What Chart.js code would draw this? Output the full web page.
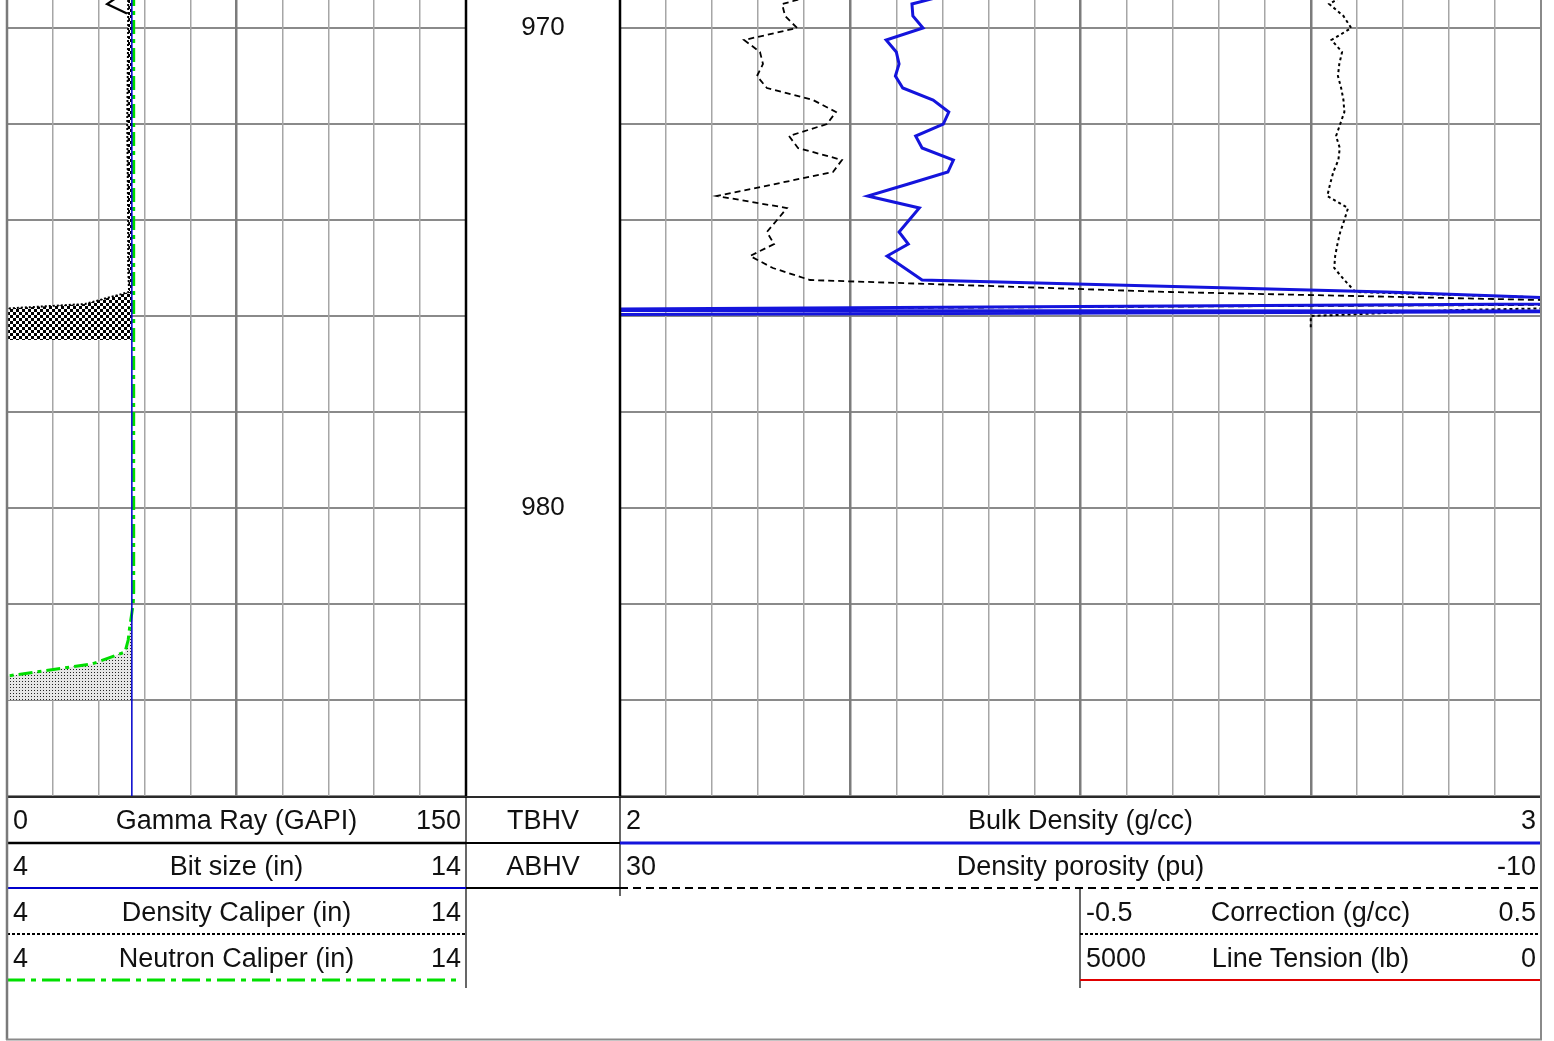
<!DOCTYPE html>
<html>
<head>
<meta charset="utf-8">
<title>Density log</title>
<script src="https://cdn.jsdelivr.net/npm/chart.js@4.4.1/dist/chart.umd.min.js"></script>
<style>
  body { margin: 0; background: #fff; }
  #page { position: relative; width: 1554px; height: 1041px; overflow: hidden; font-family: Arial, "Liberation Sans", sans-serif; }
  #page canvas { position: absolute; top: 0; }
  #lines { position: absolute; left: 0; top: 0; pointer-events: none; }
  .cell { position: absolute; height: 46px; line-height: 46px; font-size: 27px; color: #111; white-space: nowrap; }
  .cell span { position: absolute; top: 0; }
  .cell .l { left: 6px; }
  .cell .r { right: 5px; }
  .cell .m { left: 0; right: 0; text-align: center; }
</style>
</head>
<body>
<div id="page">
  <canvas id="track1" width="459" height="797" style="left:7px"></canvas>
  <canvas id="depth" width="154" height="797" style="left:466px"></canvas>
  <canvas id="track2" width="921" height="797" style="left:620px"></canvas>
  <svg id="lines" width="1554" height="1041">
    <!-- track borders -->
    <line x1="466" y1="0" x2="466" y2="797" stroke="#000" stroke-width="2.5"/>
    <line x1="620" y1="0" x2="620" y2="797" stroke="#000" stroke-width="2.5"/>
    <!-- header frame -->
    <line x1="7" y1="797" x2="1541" y2="797" stroke="#2a2a2a" stroke-width="2"/>
    <line x1="466" y1="797" x2="466" y2="988" stroke="#000" stroke-width="1.2"/>
    <line x1="620" y1="797" x2="620" y2="896" stroke="#000" stroke-width="1.2"/>
    <line x1="1080" y1="889" x2="1080" y2="988" stroke="#000" stroke-width="1.2"/>
    <!-- curve keys under each header -->
    <line x1="7" y1="843" x2="466" y2="843" stroke="#000" stroke-width="2.5"/>
    <line x1="466" y1="843" x2="620" y2="843" stroke="#000" stroke-width="2"/>
    <line x1="620" y1="843" x2="1541" y2="843" stroke="#1414dc" stroke-width="3"/>
    <line x1="7" y1="888" x2="466" y2="888" stroke="#0000cc" stroke-width="2"/>
    <line x1="466" y1="888" x2="620" y2="888" stroke="#000" stroke-width="2"/>
    <line x1="620" y1="888" x2="1541" y2="888" stroke="#000" stroke-width="2" stroke-dasharray="8 5"/>
    <line x1="7" y1="934" x2="466" y2="934" stroke="#000" stroke-width="2" stroke-dasharray="3 2"/>
    <line x1="1080" y1="934" x2="1541" y2="934" stroke="#000" stroke-width="2" stroke-dasharray="3 2"/>
    <line x1="7" y1="980" x2="460" y2="980" stroke="#00e000" stroke-width="3" stroke-dasharray="18 6 5 6"/>
    <line x1="1080" y1="980" x2="1541" y2="980" stroke="#e00000" stroke-width="2"/>
    <!-- outer frame -->
    <line x1="7" y1="0" x2="7" y2="1040" stroke="#7a7a7a" stroke-width="2.5"/>
    <line x1="1541" y1="0" x2="1541" y2="1040" stroke="#8a8a8a" stroke-width="2"/>
    <line x1="6" y1="1039.5" x2="1542" y2="1039.5" stroke="#8a8a8a" stroke-width="2"/>
  </svg>
  <div id="header"></div>
</div>
<script>
// depth window (ft) and grid
const topDepth = 969.4167;
const bottomDepth = 986.02;
const depthTicks = [970, 972, 974, 976, 978, 980, 982, 984, 986];
const depthLabels = [970, 980];

// scale ends as printed in the headers (left, right)
const grScale = [0, 150];
const calScale = [4, 14];
const rhobScale = [2, 3];
const dphiScale = [30, -10];
const corScale = [-0.5, 0.5];
const tensionScale = [5000, 0];

// track 1 curves
const grDepth = [969.25, 969.5, 969.7];
const grValue = [38.6, 32.7, 39.2];

const bsDepth = [969.2, 986.1];
const bsValue = [6.72, 6.72];

const dcalDepth = [969.25, 970, 971, 972, 973, 974, 975, 975.25, 975.5, 975.75, 976, 976.25, 976.5];
const dcalValue = [6.64, 6.64, 6.63, 6.62, 6.63, 6.64, 6.64, 6.65, 6.66, 5.70, 1.17, 1.1, 1.1];

const ncalDepth = [969.25, 972, 975, 978, 981, 981.75, 982, 982.25, 982.5, 982.75, 983, 983.25, 983.5, 983.75, 984];
const ncalValue = [6.76, 6.76, 6.76, 6.76, 6.76, 6.76, 6.75, 6.71, 6.67, 6.64, 6.57, 5.85, 4.0, 2.87, 2.54];

// track 2 curves
const rhobDepth = [969.25, 969.5, 969.75, 970, 970.25, 970.5, 970.75, 971, 971.25, 971.5, 971.75, 972,
  972.25, 972.5, 972.75, 973, 973.25, 973.5, 973.75, 974, 974.25, 974.5, 974.75, 975, 975.25, 975.5,
  975.73, 975.879, 975.9, 975.98];
const rhobValue = [2.367, 2.317, 2.318, 2.329, 2.289, 2.300, 2.303, 2.299, 2.307, 2.340, 2.357, 2.351,
  2.321, 2.328, 2.362, 2.356, 2.313, 2.269, 2.325, 2.314, 2.303, 2.313, 2.290, 2.309, 2.328, 2.832,
  3.173, 1.761, 3.173, 1.761];

const dphiDepth = [969.25, 969.5, 969.75, 970, 970.25, 970.5, 970.75, 971, 971.25, 971.5, 971.75, 972,
  972.25, 972.5, 972.75, 973, 973.25, 973.5, 973.75, 974, 974.25, 974.5, 974.75, 975, 975.25, 975.5,
  975.75, 975.879];
const dphiValue = [21.0, 22.96, 22.83, 22.31, 24.61, 23.92, 23.79, 24.05, 23.62, 21.62, 20.62, 21.01,
  22.66, 22.27, 20.36, 20.75, 23.27, 25.79, 22.75, 23.18, 23.62, 23.31, 24.35, 23.36, 21.75, 6.11,
  -18.03, 39.55];

const corDepth = [969.25, 969.5, 969.75, 970, 970.25, 970.5, 970.75, 971, 971.25, 971.5, 971.75, 972,
  972.25, 972.5, 972.75, 973, 973.25, 973.5, 973.75, 974, 974.25, 974.5, 974.75, 975, 975.25, 975.5,
  975.75, 975.875, 976, 976.25];
const corValue = [0.086, 0.040, 0.071, 0.088, 0.045, 0.068, 0.062, 0.059, 0.066, 0.071, 0.073, 0.064,
  0.055, 0.063, 0.060, 0.049, 0.042, 0.036, 0.081, 0.073, 0.064, 0.058, 0.053, 0.051, 0.073, 0.097,
  1.0, 0.32, 0.0, 0.0];

// fill patterns
function makePattern(size, paint) {
  const c = document.createElement('canvas');
  c.width = c.height = size;
  const g = c.getContext('2d');
  paint(g);
  return g.createPattern(c, 'repeat');
}
const checker = makePattern(6, g => {
  g.fillStyle = '#fff'; g.fillRect(0, 0, 6, 6);
  g.fillStyle = '#000'; g.fillRect(0, 0, 3, 3); g.fillRect(3, 3, 3, 3);
});
const stipple = makePattern(3, g => {
  g.fillStyle = '#e6e6e6'; g.fillRect(0, 0, 3, 3);
  g.fillStyle = '#222'; g.fillRect(0, 0, 1, 1);
});

function pts(depth, value) {
  return depth.map((d, i) => ({ x: value[i], y: d }));
}

function curve(label, axis, depth, value, color, width, dash) {
  return {
    label: label, xAxisID: axis, data: pts(depth, value),
    borderColor: color, borderWidth: width, borderDash: dash || [],
    pointRadius: 0, fill: false, tension: 0, order: 0
  };
}

// caliper smaller than bit size, closed back along the bit size line
function shade(label, depth, value, bit, pattern) {
  const d = [], v = [];
  depth.forEach((x, i) => { if (value[i] < bit) { d.push(x); v.push(value[i]); } });
  d.push(d[d.length - 1], d[0]);
  v.push(bit, bit);
  return {
    label: label, xAxisID: 'cal', data: pts(d, v),
    borderColor: 'rgba(0,0,0,0)', borderWidth: 0, pointRadius: 0,
    fill: 'shape', backgroundColor: pattern, order: 5
  };
}

function depthAxis(showGrid) {
  return {
    axis: 'y', type: 'linear', position: 'left', reverse: true, min: topDepth, max: bottomDepth,
    afterBuildTicks: a => { a.ticks = depthTicks.map(v => ({ value: v })); },
    afterFit: a => { a.width = 0; },
    ticks: { display: false }, border: { display: false },
    grid: { display: showGrid, drawTicks: false, color: '#8a8a8a', lineWidth: 2 }
  };
}

function gridAxis(n, majors) {
  const list = [];
  for (let i = 1; i < n; i++) list.push(i);
  const isMajor = c => c.tick && majors.includes(c.tick.value);
  return {
    axis: 'x', type: 'linear', position: 'bottom', min: 0, max: n,
    afterBuildTicks: a => { a.ticks = list.map(v => ({ value: v })); },
    afterFit: a => { a.height = 0; },
    ticks: { display: false }, border: { display: false },
    grid: { drawTicks: false, color: c => isMajor(c) ? '#7c7c7c' : '#a6a6a6', lineWidth: c => isMajor(c) ? 2.5 : 1.5 }
  };
}

// scale across the whole track, or across its right half only
function valueAxis(ends, half) {
  let l = ends[0], r = ends[1];
  if (half) l = l - (r - l);
  return { axis: 'x', type: 'linear', display: false, min: Math.min(l, r), max: Math.max(l, r), reverse: l > r };
}

function baseOptions(scales) {
  return {
    responsive: false, animation: false, devicePixelRatio: 1, events: [],
    layout: { padding: 0 },
    plugins: { legend: { display: false }, tooltip: { enabled: false } },
    scales: scales
  };
}

new Chart(document.getElementById('track1'), {
  type: 'line',
  data: {
    datasets: [
      curve('Gamma Ray', 'gr', grDepth, grValue, '#000', 2.2),
      curve('Bit size', 'cal', bsDepth, bsValue, '#0000cc', 1.5),
      curve('Density Caliper', 'cal', dcalDepth, dcalValue, '#000', 2, [2, 2]),
      curve('Neutron Caliper', 'cal', ncalDepth, ncalValue, '#00dd00', 3, [14, 5, 4, 5]),
      shade('Density Caliper fill', dcalDepth, dcalValue, bsValue[0], checker),
      shade('Neutron Caliper fill', ncalDepth, ncalValue, bsValue[0], stipple)
    ]
  },
  options: baseOptions({
    y: depthAxis(true),
    grid1: gridAxis(10, [5]),
    gr: valueAxis(grScale),
    cal: valueAxis(calScale)
  })
});

// depth numbers in the middle track
const depthText = {
  id: 'depthText',
  afterDraw(chart) {
    const ctx = chart.ctx, y = chart.scales.y;
    ctx.save();
    ctx.font = '26px Arial, "Liberation Sans", sans-serif';
    ctx.fillStyle = '#111';
    ctx.textAlign = 'center';
    ctx.textBaseline = 'middle';
    depthLabels.forEach(d => ctx.fillText(String(d), chart.width / 2, y.getPixelForValue(d)));
    ctx.restore();
  }
};

new Chart(document.getElementById('depth'), {
  type: 'line',
  data: { datasets: [] },
  options: baseOptions({
    y: depthAxis(false),
    x: { axis: 'x', type: 'linear', display: false, min: 0, max: 1 }
  }),
  plugins: [depthText]
});

new Chart(document.getElementById('track2'), {
  type: 'line',
  data: {
    datasets: [
      curve('Bulk Density', 'rhob', rhobDepth, rhobValue, '#1414dc', 3),
      curve('Density porosity', 'dphi', dphiDepth, dphiValue, '#000', 1.8, [6, 4]),
      curve('Correction', 'cor', corDepth, corValue, '#000', 2, [3, 3])
    ]
  },
  options: baseOptions({
    y: depthAxis(true),
    grid2: gridAxis(20, [5, 10, 15]),
    rhob: valueAxis(rhobScale),
    dphi: valueAxis(dphiScale),
    cor: valueAxis(corScale, true)
  })
});

// header cells
const rowTop = [797, 843, 889, 935];
const headerCells = [
  { x0: 7, x1: 466, row: 0, mid: 'Gamma Ray (GAPI)', ends: grScale },
  { x0: 466, x1: 620, row: 0, mid: 'TBHV' },
  { x0: 620, x1: 1541, row: 0, mid: 'Bulk Density (g/cc)', ends: rhobScale },
  { x0: 7, x1: 466, row: 1, mid: 'Bit size (in)', ends: calScale },
  { x0: 466, x1: 620, row: 1, mid: 'ABHV' },
  { x0: 620, x1: 1541, row: 1, mid: 'Density porosity (pu)', ends: dphiScale },
  { x0: 7, x1: 466, row: 2, mid: 'Density Caliper (in)', ends: calScale },
  { x0: 1080, x1: 1541, row: 2, mid: 'Correction (g/cc)', ends: corScale },
  { x0: 7, x1: 466, row: 3, mid: 'Neutron Caliper (in)', ends: calScale },
  { x0: 1080, x1: 1541, row: 3, mid: 'Line Tension (lb)', ends: tensionScale }
];

let html = '';
headerCells.forEach(c => {
  html += '<div class="cell" style="left:' + c.x0 + 'px;width:' + (c.x1 - c.x0) + 'px;top:' + rowTop[c.row] + 'px">';
  if (c.ends) html += '<span class="l">' + c.ends[0] + '</span>';
  html += '<span class="m">' + c.mid + '</span>';
  if (c.ends) html += '<span class="r">' + c.ends[1] + '</span>';
  html += '</div>';
});
document.getElementById('header').innerHTML = html;
</script>
</body>
</html>
